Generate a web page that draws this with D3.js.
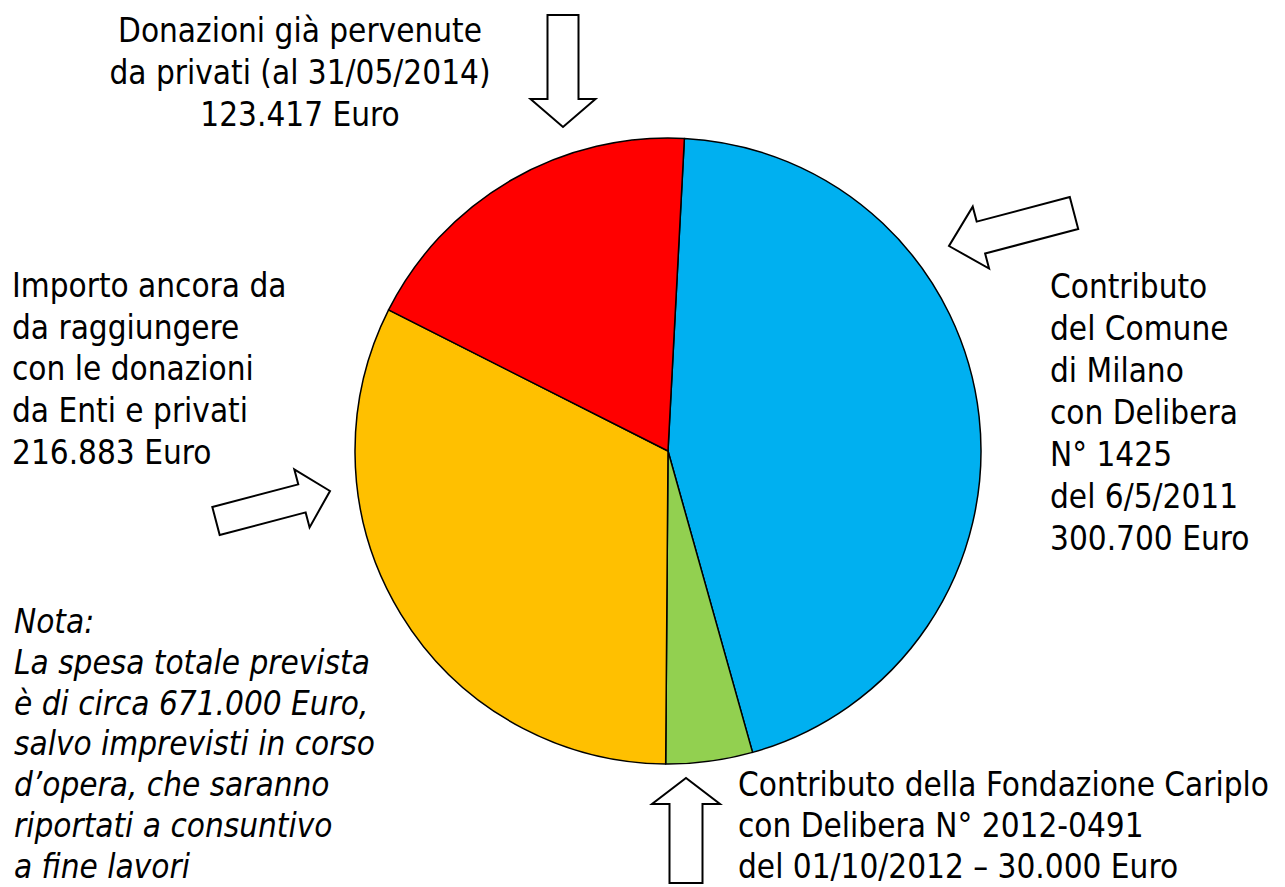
<!DOCTYPE html>
<html>
<head>
<meta charset="utf-8">
<script src="https://cdn.jsdelivr.net/npm/d3@7"></script>
<style>
  body { margin: 0; background: #fff; }
  text { font-family: "DejaVu Sans Condensed", "DejaVu Sans", sans-serif; font-stretch: condensed; font-size: 33px; fill: #000; }
  .nota { font-style: italic; }
</style>
</head>
<body>
<div id="chart-area"></div>
<script>
/*
*    budget pie
*/

var categories = ["Comune di Milano", "Fondazione Cariplo", "Importo ancora da raggiungere", "Donazioni private"];
var amounts = [300700, 30000, 216883, 123417];
var colors = ["#00B0F0", "#92D050", "#FFC000", "#FF0000"];

var labelTop = ["Donazioni già pervenute", "da privati (al 31/05/2014)", "123.417 Euro"];
var labelRight = ["Contributo", "del Comune", "di Milano", "con Delibera", "N° 1425", "del 6/5/2011", "300.700 Euro"];
var labelLeft = ["Importo ancora da", "da raggiungere", "con le donazioni", "da Enti e privati", "216.883 Euro"];
var labelBottom = ["Contributo della Fondazione Cariplo", "con Delibera N° 2012-0491", "del 01/10/2012 – 30.000 Euro"];
var notaLines = ["Nota:", "La spesa totale prevista", "è di circa 671.000 Euro,", "salvo imprevisti in corso", "d’opera, che saranno", "riportati a consuntivo", "a fine lavori"];

var width = 1285;
var height = 887;

var svg = d3.select("#chart-area").append("svg")
    .attr("width", width)
    .attr("height", height);

// pie
var cx = 668, cy = 451, radius = 313;
var start = 3 * Math.PI / 180;

var pie = d3.pie()
    .sort(null)
    .startAngle(start)
    .endAngle(start + 2 * Math.PI);

var arc = d3.arc()
    .innerRadius(0)
    .outerRadius(radius);

var g = svg.append("g")
    .attr("transform", "translate(" + cx + ", " + cy + ")");

g.selectAll("path")
    .data(pie(amounts))
    .enter()
    .append("path")
        .attr("d", arc)
        .attr("fill", (d, i) => colors[i])
        .attr("stroke", "#000")
        .attr("stroke-width", 1.5)
        .attr("stroke-linejoin", "round");

// block arrows (tip, tail, shaft width, head width, head length)
function blockArrow(tip, tail, sw, hw, hl) {
    var dx = tip[0] - tail[0], dy = tip[1] - tail[1];
    var len = Math.sqrt(dx * dx + dy * dy);
    var ux = dx / len, uy = dy / len;
    var px = -uy, py = ux;
    var bx = tip[0] - ux * hl, by = tip[1] - uy * hl;
    var pts = [
        [tail[0] + px * sw / 2, tail[1] + py * sw / 2],
        [bx + px * sw / 2, by + py * sw / 2],
        [bx + px * hw / 2, by + py * hw / 2],
        tip,
        [bx - px * hw / 2, by - py * hw / 2],
        [bx - px * sw / 2, by - py * sw / 2],
        [tail[0] - px * sw / 2, tail[1] - py * sw / 2]
    ];
    svg.append("polygon")
        .attr("points", pts.map((p) => p.join(",")).join(" "))
        .attr("fill", "#fff")
        .attr("stroke", "#000")
        .attr("stroke-width", 2);
}

blockArrow([563, 127], [563, 15], 31, 65, 28);
blockArrow([949, 246], [1074, 213], 33, 64, 33);
blockArrow([330, 491], [216, 521], 29, 60, 29);
blockArrow([686, 778], [686, 883], 33, 68, 26);

// labels
function block(lines, x, y0, lineH, anchor, cls) {
    svg.append("g").selectAll("text")
        .data(lines)
        .enter()
        .append("text")
            .attr("class", cls || null)
            .attr("x", x)
            .attr("y", (d, i) => y0 + i * lineH)
            .attr("text-anchor", anchor)
            .text((d) => d);
}

block(labelTop, 300, 42, 42, "middle");
block(labelRight, 1050, 298, 42, "start");
block(labelLeft, 12, 297, 41.7, "start");
block(labelBottom, 738, 796, 41, "start");
block(notaLines, 14, 633, 40.8, "start", "nota");
</script>
</body>
</html>
